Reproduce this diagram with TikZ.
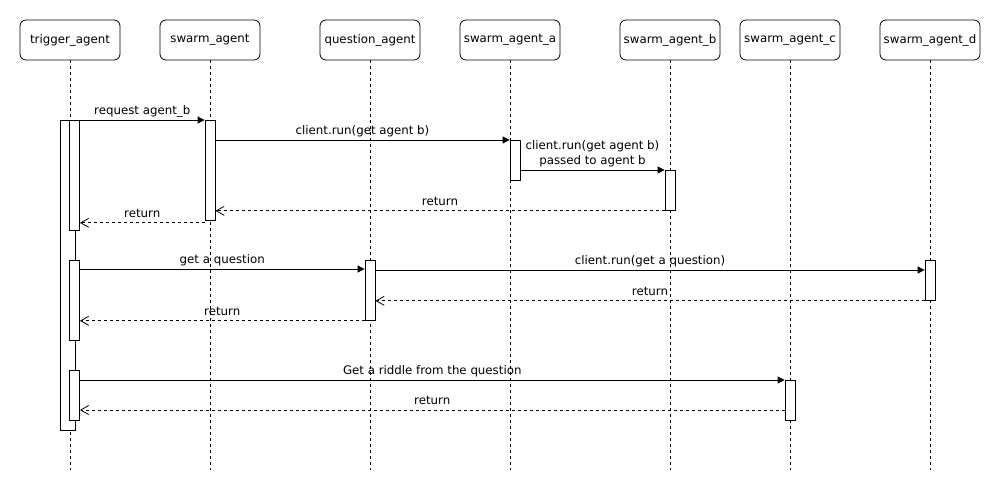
\documentclass[tikz,border=0pt]{standalone}
\usepackage{fontspec}
\setmainfont{DejaVu Sans}
\usetikzlibrary{arrows.meta}

\begin{document}
\begin{tikzpicture}[x=1pt, y=-1pt, line width=0.8pt,
    font=\fontsize{11.8}{15}\selectfont,
    actor/.style={draw, rounded corners=6pt, minimum width=100pt, minimum height=40pt, inner sep=0pt},
    bar/.style={draw, fill=white, anchor=north, inner sep=0pt, minimum width=10pt},
    life/.style={dash pattern=on 3pt off 3pt, line width=0.7pt},
    msg/.style={-{Triangle[length=7pt,width=7pt]}},
    ret/.style={dash pattern=on 3pt off 3pt, -{Straight Barb[length=8pt,width=9pt]}},
    lbl/.style={midway, above, inner sep=2pt, text depth=3pt}
    ]
    \useasboundingbox (0,0) rectangle (1001,491);
    \node[actor] (trig) at (70,40) {trigger\_agent};
    \node[actor] (swarm) at (210,40) {swarm\_agent};
    \node[actor] (quest) at (370,40) {question\_agent};
    \node[actor] (agta) at (510,40) {swarm\_agent\_a};
    \node[actor] (agtb) at (670,40) {swarm\_agent\_b};
    \node[actor] (agtc) at (790,40) {swarm\_agent\_c};
    \node[actor] (agtd) at (930,40) {swarm\_agent\_d};
    \foreach \n in {trig,swarm,quest,agta,agtb,agtc,agtd}
      \draw[life] (\n.south) -- (\n.south |- 0,470);

    \node[bar, minimum width=15.5pt, minimum height=310pt] (trigbar) at (67.75,120) {};
    \node[bar, minimum height=110pt] (trig1) at (74.5,120) {};
    \node[bar, minimum height=80pt] (trig2) at (74.5,260) {};
    \node[bar, minimum height=50pt] (trig3) at (74.5,370) {};
    \node[bar, minimum height=100pt] (swarmbar) at (210,120) {};
    \node[bar, minimum height=60pt] (questbar) at (370,260) {};
    \node[bar, minimum height=40pt] (abar) at (515,140) {};
    \node[bar, minimum height=40pt] (bbar) at (670,170) {};
    \node[bar, minimum height=40pt] (cbar) at (790,380) {};
    \node[bar, minimum height=40pt] (dbar) at (930,260) {};

    \coordinate (r1) at ([yshift=-2pt]swarmbar.south west);
    \coordinate (q1) at ([yshift=-9pt]questbar.north west);
    \coordinate (d1) at ([yshift=-10pt]dbar.north west);
    \coordinate (c1) at ([yshift=-30pt]cbar.north west);

    \draw[msg] (trig1.north east) -- node[lbl] {request agent\_b} (swarmbar.north west);
    \draw[msg] (swarmbar.east |- abar.north) -- node[lbl] {client.run(get agent b)} (abar.north west);
    \draw[msg] (abar.east |- bbar.north) -- node[lbl, align=center] {client.run(get agent b)\\passed to agent b} (bbar.north west);
    \draw[ret] (bbar.south west) -- node[lbl] {return} (swarmbar.east |- bbar.south);
    \draw[ret] (r1) -- node[lbl] {return} (trig1.east |- r1);
    \draw[msg] (trig2.east |- q1) -- node[lbl] {get a question} (q1);
    \draw[msg] (questbar.east |- d1) -- node[lbl] {client.run(get a question)} (d1);
    \draw[ret] (dbar.south west) -- node[lbl] {return} (questbar.east |- dbar.south);
    \draw[ret] (questbar.south west) -- node[lbl] {return} (trig2.east |- questbar.south);
    \draw[msg] (trig3.east |- cbar.north) -- node[lbl] {Get a riddle from the question} (cbar.north west);
    \draw[ret] (c1) -- node[lbl] {return} (trig3.east |- c1);
\end{tikzpicture}
\end{document}
